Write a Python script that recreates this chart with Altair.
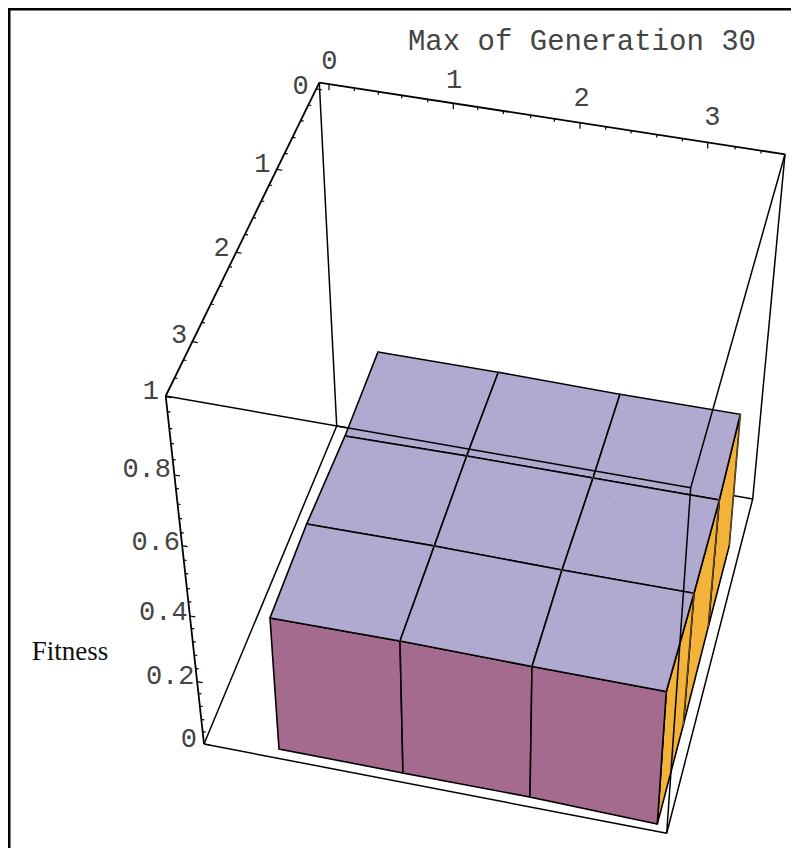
import altair as alt
import pandas as pd

W, H = 783, 840

# Projected corners of the 3 x 3 block of bars (rows run back to front)
TOP_X = [[378.0, 498.3, 620.0, 740.3], [345.0, 466.7, 593.0, 719.3], [306.7, 434.3, 562.0, 694.0], [270.0, 400.0, 532.0, 666.3]]
TOP_Y = [[352.0, 372.3, 394.3, 414.3], [436.0, 456.0, 478.0, 500.0], [524.0, 546.0, 570.0, 593.3], [618.0, 641.0, 666.5, 691.5]]
FRONT_BASE_X = [279.0, 403.0, 530.0, 657.3]
FRONT_BASE_Y = [749.0, 773.0, 797.0, 824.0]
SIDE_BASE_X = [729.3, 708.3, 683.3, 657.3]
SIDE_BASE_Y = [545.7, 626.7, 725.0, 824.0]

# Bounding box corners
A = (319.3, 82.7)    # top, back-left
B = (785.0, 154.3)   # top, back-right
C = (165.7, 396.0)   # top, front-left
D = (690.7, 487.7)   # top, front-right
E = (336.7, 426.0)   # bottom, back-left
F = (752.7, 499.0)   # bottom, back-right
G = (204.0, 744.0)   # bottom, front-left
I = (666.7, 833.3)   # bottom, front-right

# Tick positions
TOPAXIS_X = [329, 354.3, 378.3, 401.7, 427.7, 453.3, 477.7, 503.3, 530.7, 554.3, 580, 605.7, 631, 656.7, 682.3, 707.7, 735, 761]
TOPAXIS_MAJOR = [329, 453.3, 580, 707.7]
LEFTAXIS_Y = [89, 105, 120.7, 137.3, 153.3, 169.3, 185, 201, 217.7, 234.3, 252.3, 266.7, 286, 304, 322.3, 341.7, 360, 378]
LEFTAXIS_MAJOR = [89, 169.3, 252.3, 341.7]
ZAXIS_Y = [396.7, 411.7, 428.3, 443.3, 459.3, 475, 488.3, 504, 518.3, 532.7, 545.7, 560, 573.3, 588.3, 601.7, 616,
           628.3, 641.7, 655, 668.3, 681.7, 693.3, 706, 719.3, 731.7, 744]
ZAXIS_MAJOR = [396.7, 475, 545.7, 616, 681.7, 744]

# Labels: text, x, y
TOP_LABELS = [("0", 329.3, 60.7), ("1", 454, 80), ("2", 581.7, 98.3), ("3", 712.3, 117.3)]
LEFT_LABELS = [("0", 300.7, 85.7), ("1", 262.3, 164), ("2", 221.7, 248.3), ("3", 179, 335)]
Z_LABELS = [("1", 159, 391), ("0.8", 171, 469.3), ("0.6", 180, 541.7), ("0.4", 187.7, 611.7), ("0.2", 194.5, 675.7), ("0", 197, 739.3)]

TOP_COLOR = "#b0aad0"
FRONT_COLOR = "#a56b8e"
SIDE_COLOR = "#f3b23a"
STROKE = "#000000"
TEXT_COLOR = "#444444"

xs = alt.Scale(domain=[8, 8 + W], nice=False, zero=False)
ys = alt.Scale(domain=[8 + H, 8], nice=False, zero=False)
X = alt.X("x:Q", scale=xs, axis=None)
Y = alt.Y("y:Q", scale=ys, axis=None)


def polys(quads, fill):
    rows = []
    for n, q in enumerate(quads):
        for k, (x, y) in enumerate(q):
            rows.append({"id": n, "k": k, "x": x, "y": y})
    return alt.Chart(pd.DataFrame(rows)).mark_line(
        fill=fill, stroke=STROKE, strokeWidth=1.6, interpolate="linear-closed", strokeJoin="miter"
    ).encode(x=X, y=Y, detail="id:N", order="k:Q")


def segs(pairs, width=1.3, color=STROKE):
    df = pd.DataFrame([{"x": a[0], "y": a[1], "x2": b[0], "y2": b[1]} for a, b in pairs])
    return alt.Chart(df).mark_rule(strokeWidth=width, color=color).encode(x=X, y=Y, x2="x2:Q", y2="y2:Q")


def labels(items, align, font="Liberation Mono", size=27, color=TEXT_COLOR):
    df = pd.DataFrame([{"t": t, "x": x, "y": y} for t, x, y in items])
    return alt.Chart(df).mark_text(align=align, baseline="middle", font=font, fontSize=size, color=color).encode(
        x=X, y=Y, text="t:N"
    )


def lerp(p, q, t):
    return (p[0] + (q[0] - p[0]) * t, p[1] + (q[1] - p[1]) * t)


# Faces
top_quads, front_quads, side_quads = [], [], []
top_diag, front_diag, side_diag = [], [], []
for r in range(3):
    for c in range(3):
        tl = (TOP_X[r][c], TOP_Y[r][c])
        tr = (TOP_X[r][c + 1], TOP_Y[r][c + 1])
        br = (TOP_X[r + 1][c + 1], TOP_Y[r + 1][c + 1])
        bl = (TOP_X[r + 1][c], TOP_Y[r + 1][c])
        top_quads.append([tl, tr, br, bl])
        top_diag.append((tl, br))
for c in range(3):
    a = (TOP_X[3][c], TOP_Y[3][c])
    b = (TOP_X[3][c + 1], TOP_Y[3][c + 1])
    d = (FRONT_BASE_X[c + 1], FRONT_BASE_Y[c + 1])
    e = (FRONT_BASE_X[c], FRONT_BASE_Y[c])
    front_quads.append([a, b, d, e])
    front_diag.append((e, lerp(e, b, 0.72)))
for r in range(3):
    a = (TOP_X[r][3], TOP_Y[r][3])
    d = (SIDE_BASE_X[r], SIDE_BASE_Y[r])
    side_quads.append([a, (TOP_X[r + 1][3], TOP_Y[r + 1][3]), (SIDE_BASE_X[r + 1], SIDE_BASE_Y[r + 1]), d])
    side_diag.append((a, d))


def on_line(p, q, x=None, y=None):
    if x is not None:
        return (x, p[1] + (q[1] - p[1]) * (x - p[0]) / (q[0] - p[0]))
    return (p[0] + (q[0] - p[0]) * (y - p[1]) / (q[1] - p[1]), y)


ticks = []
for x in TOPAXIS_X:
    p = on_line(A, B, x=x)
    ticks.append((p, (p[0], p[1] + (6 if x in TOPAXIS_MAJOR else 3))))
for y in LEFTAXIS_Y:
    p = on_line(A, C, y=y)
    L = 5.5 if y in LEFTAXIS_MAJOR else 3
    ticks.append((p, (p[0] + L, p[1] + L * 0.17)))
for y in ZAXIS_Y:
    p = on_line(C, G, y=y)
    L = 5.5 if y in ZAXIS_MAJOR else 3
    ticks.append((p, (p[0] + L, p[1] + L * 0.17)))

axis_edges = [(A, B), (A, C), (C, G)]
back_edges = [(A, E), (G, I), (E, G), (E, F), (F, B), (F, I)]
front_edges = [(C, D), (D, B), (D, I)]
frame = [((9.2, 8), (9.2, 8 + H)), ((8, 9.2), (8 + W, 9.2))]

chart = alt.layer(
    segs(frame, width=2.6),
    segs(axis_edges, width=1.8),
    segs(back_edges, width=1.5),
    segs(ticks, width=1.2),
    polys(side_quads, SIDE_COLOR),
    polys(front_quads, FRONT_COLOR),
    polys(top_quads, TOP_COLOR),
    segs(top_diag, width=0.6, color="#a899bd"),
    segs(front_diag, width=0.5, color="#ad7698"),
    segs(side_diag, width=0.5, color="#dfa552"),
    segs(front_edges, width=1.5),
    labels(TOP_LABELS, "center"),
    labels(LEFT_LABELS, "center"),
    labels(Z_LABELS, "right"),
    labels([("Max of Generation 30", 582, 40.7)], "center", size=29),
    labels([("Fitness", 31.7, 651.5)], "left", font="Liberation Serif", size=27, color="#111111"),
).properties(
    width=W, height=H, padding=0, autosize=alt.AutoSizeParams(type="none")
).configure_view(stroke=None)

chart.save("out.html", embed_options={"renderer": "svg", "actions": False})
